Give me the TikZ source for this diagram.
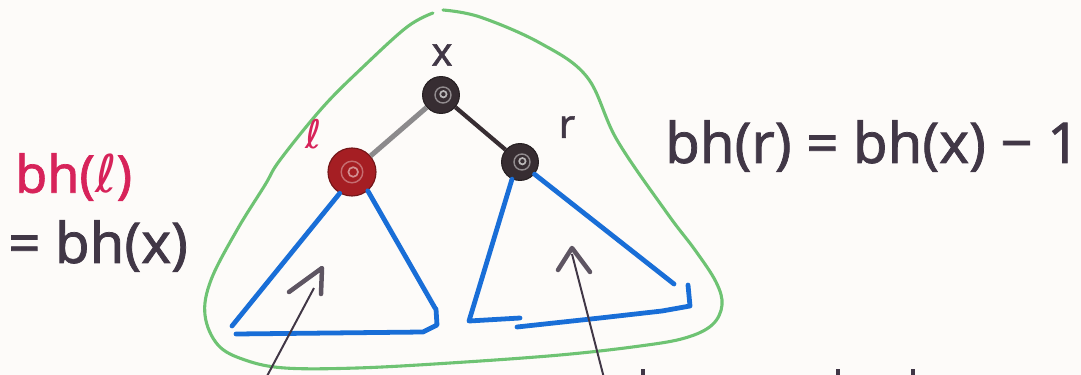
\documentclass[tikz,border=0pt]{standalone}
\usepackage{fontspec}
\setmainfont{Noto Sans}
\newfontfamily\handfont{Noto Sans}[FakeBold=1.3]
\newfontfamily\djv{DejaVu Sans}
\usetikzlibrary{arrows.meta}
\definecolor{bg}{RGB}{253,251,249}
\definecolor{grn}{RGB}{110,195,115}
\definecolor{blu}{RGB}{25,110,215}
\definecolor{ink}{RGB}{65,55,70}
\definecolor{pnk}{RGB}{215,35,90}
\definecolor{redn}{RGB}{165,30,35}
\definecolor{blk}{RGB}{55,45,50}
\definecolor{gry}{RGB}{140,138,140}
\tikzset{
  bnode/.style={circle,fill=blk,draw=blk!70!black,line width=0.8pt,inner sep=0pt,minimum size=0.92cm,
    path picture={\draw[white!45!blk,line width=1pt] ([xshift=0.05cm]path picture bounding box.center) circle (0.2cm);
                  \draw[white!65!blk,line width=1.2pt] ([xshift=0.06cm,yshift=0.02cm]path picture bounding box.center) circle (0.08cm);}},
  rnode/.style={bnode,fill=redn,draw=redn!70!black,minimum size=1.2cm,
    path picture={\draw[white!35!redn,line width=1pt] (path picture bounding box.center) circle (0.27cm);
                  \draw[white!50!redn,line width=1.2pt] ([xshift=0.03cm]path picture bounding box.center) circle (0.12cm);}},
  tri/.style={draw=blu,line width=3.4pt,line cap=round,line join=round},
  hull/.style={draw=grn,line width=2.2pt,line cap=round},
  shaft/.style={draw=ink,line width=1.4pt},
  chev/.style={draw=ink!85!white,line width=3.2pt,line cap=round,line join=round},
  hand/.style={text=ink,font=\handfont\fontsize{40}{46}\selectfont,inner sep=0pt},
  lab/.style={font=\handfont\fontsize{28}{32}\selectfont,inner sep=0pt}
}
\begin{document}
\begin{tikzpicture}[x=0.025cm,y=-0.025cm]
\useasboundingbox[fill=bg] (0,0) rectangle (1081,375);
% green hull
\draw[hull] plot[smooth,tension=0.6] coordinates {(443,10) (480,17) (540,43) (587,77) (617,140) (667,213) (695,250) (716,282) (722,305) (712,325) (685,338) (640,346) (560,355) (450,363) (357,368) (285,368) (245,360) (218,345) (205,315) (211,280) (237,230) (265,185) (280,160) (323,107) (363,67) (407,27) (433,13)};
% tree nodes
\node[bnode] (x) at (441,95) {};
\node[rnode] (l) at (352,172) {};
\node[bnode] (r) at (520,162) {};
\draw[gry,line width=3.6pt] (x) -- (l);
\draw[blk,line width=3pt] (x) -- (r);
% labels
\node[lab,text=ink] (xl) at (442,55) {x};
\node[lab,text=pnk] (ll) at (314,134) {\djv ℓ};
\node[lab,text=ink] (rl) at (567,127) {r};
% blue subtrees
\draw[tri] (l.240) -- (232,326);
\draw[tri] (236,334) -- (330,333) -- (423,332) -- (437,325) -- (436,309);
\draw[tri] (l.310) -- (435,308);
\draw[tri] (r.245) -- (469,321) -- (520,318);
\draw[tri] (517,327) -- (600,318) -- (662,311) -- (690,306) -- (688,285);
\draw[tri] (r.320) -- (674,284);
% arrows
\coordinate (a1s) at (266,378);
\coordinate (a1e) at (314,288);
\draw[shaft] (a1s) -- (a1e);
\draw[chev] (289,292) -- (322,268) -- (321,294);
\coordinate (a2s) at (604,378);
\coordinate (a2e) at (572,254);
\draw[shaft] (a2s) -- (a2e);
\draw[chev] (558,270) -- (572,248) -- (590,272);
% cut-off marks at bottom
\draw[ink,line width=2.6pt] (643,369) -- (643,376);
\draw[ink,line width=2.6pt] (838,369) -- (838,376);
\draw[ink,line width=2.6pt] (913,369) -- (913,376);
% text
\node[hand,text=pnk,anchor=west,font=\handfont\fontsize{37}{42}\selectfont] (t1) at (15,177) {bh({\djv ℓ})};
\node[hand,anchor=west] (t2) at (8,246) {= bh(x)};
\node[hand,anchor=west] (t3) at (665,146) {bh(r) = bh(x) − 1};
\end{tikzpicture}
\end{document}
